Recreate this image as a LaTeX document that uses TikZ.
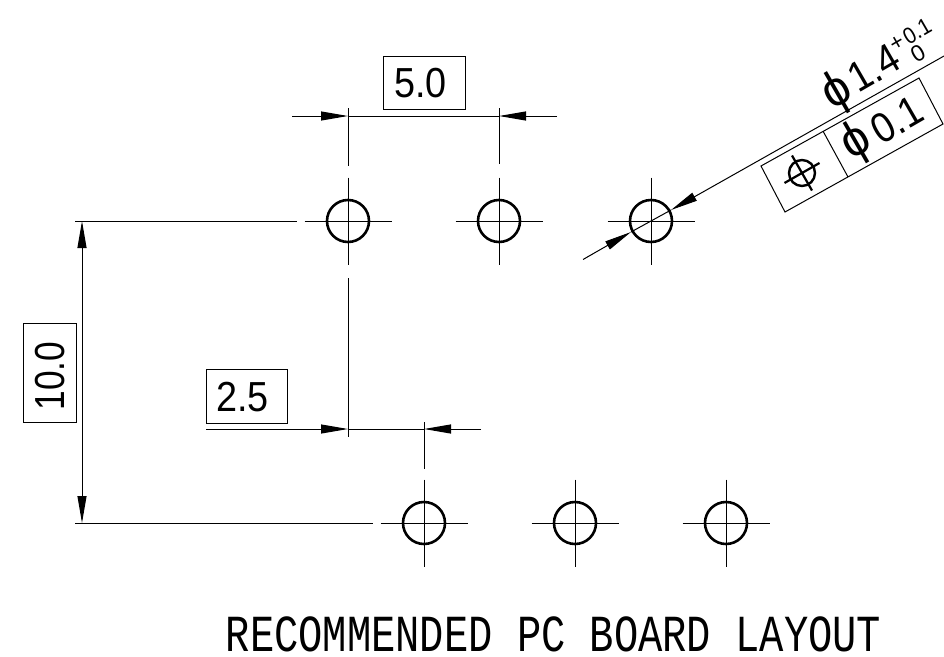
\documentclass[tikz,border=0pt]{standalone}
\usepackage{fontspec}
\setmainfont{Liberation Mono}
\newfontfamily\numf{Liberation Sans}
\usetikzlibrary{arrows.meta,calc}
\newcommand{\nar}[2][.9]{\scalebox{#1}[1]{#2}}
\tikzset{
  x=1pt,y=-1pt,
  thinline/.style={line width=1pt,black},
  hole/.style={circle,draw,line width=2.6pt,minimum size=42pt,inner sep=0pt},
  dimarrow/.style={-{Triangle[length=27pt,width=9pt]},thinline},
  frame/.style={draw,line width=1pt,inner sep=0pt,minimum height=53pt},
  bignum/.style={inner sep=0pt,font=\fontsize{42}{42}\selectfont\numf},
  tiltnum/.style={inner sep=0pt,rotate=30,transform shape,font=\fontsize{42}{42}\selectfont\numf},
  tinynum/.style={inner sep=0pt,rotate=30,transform shape,font=\fontsize{23}{23}\selectfont\numf},
}
\begin{document}
\begin{tikzpicture}
\useasboundingbox (0,0) rectangle (944,656);
% holes and centre lines
\foreach \n/\x/\y in {a/348/221,b/499/221,c/651/221,d/424/523,e/575/523,f/726/523}{
  \node[hole] (\n) at (\x,\y) {};
  \draw[thinline] (\x-43.5,\y) -- (\x+43.5,\y) (\x,\y-43.5) -- (\x,\y+43.5);
}
% extension lines
\coordinate (a1) at (348,108); \coordinate (a2) at (348,166);
\coordinate (b1) at (499,108); \coordinate (b2) at (499,164);
\coordinate (a3) at (348,278); \coordinate (a4) at (348,437);
\coordinate (d1) at (424,422); \coordinate (d2) at (424,469);
\coordinate (l1) at (75,221);  \coordinate (l2) at (297,221);
\coordinate (m1) at (75,523);  \coordinate (m2) at (373,523);
\draw[thinline] (a1) -- (a2) (b1) -- (b2) (a3) -- (a4) (d1) -- (d2) (l1) -- (l2) (m1) -- (m2);
% 5.0
\coordinate (p1) at (292,116); \coordinate (p2) at (348,116);
\coordinate (p3) at (499,116); \coordinate (p4) at (557,116);
\draw[thinline] (p2) -- (p3);
\draw[dimarrow] (p1) -- (p2);
\draw[dimarrow] (p4) -- (p3);
\node[frame,minimum width=82pt] (f50) at (424,82.5) {};
\node[bignum] (t50) at (420.5,83) {\nar{5.0}};
% 2.5
\coordinate (q1) at (206,429); \coordinate (q2) at (348,429);
\coordinate (q3) at (424,429); \coordinate (q4) at (481,429);
\draw[thinline] (q2) -- (q3);
\draw[dimarrow] (q1) -- (q2);
\draw[dimarrow] (q4) -- (q3);
\node[frame,minimum width=81pt,minimum height=54pt] (f25) at (246.5,396) {};
\node[bignum] (t25) at (242.5,397) {\nar{2.5}};
% 10.0
\coordinate (v1) at (82,221); \coordinate (v2) at (82,523);
\draw[thinline,{Triangle[length=27pt,width=9pt]}-{Triangle[length=27pt,width=9pt]}] (v1) -- (v2);
\node[frame,minimum width=53pt,minimum height=99pt] (f10) at (49.5,372.5) {};
\node[bignum,rotate=90,transform shape] (t10) at (50,376) {\nar[.84]{10.0}};
% leader through hole c
\coordinate (r1) at (583,259.5); \coordinate (r2) at (631,232);
\coordinate (r3) at (671,210);  \coordinate (r4) at (944,56);
\draw[thinline] (r2) -- (r3);
\draw[dimarrow] (r1) -- (r2);
\draw[dimarrow] (r4) -- (r3);
% feature control frame
\coordinate (k1) at (761,166); \coordinate (k2) at (919,78);
\coordinate (k3) at (943,124); \coordinate (k4) at (785,212);
\coordinate (k5) at (823.5,132); \coordinate (k6) at (848,177);
\draw[line width=1pt] (k1) -- (k2) -- (k3) -- (k4) -- cycle (k5) -- (k6);
\coordinate (s) at (802,173);
\node[circle,draw,line width=2.4pt,minimum size=26pt,inner sep=0pt] (sym) at (s) {};
\draw[line width=2.2pt] ($(s)+(-17.5,10)$) -- ($(s)+(17.5,-10)$) ($(s)+(-10,-17.5)$) -- ($(s)+(10,17.5)$);
% texts
\node[tiltnum,font=\fontsize{50}{50}\selectfont\numf] (phi1) at (838,93) {\nar[.95]{ϕ}};
\node[tiltnum] (t14) at (874,68) {\nar{1.4}};
\node[tinynum] (tp) at (897,43) {+};
\node[tinynum] (tu) at (917,31) {\nar{0.1}};
\node[tinynum] (tl) at (918,53) {0};
\node[tiltnum,font=\fontsize{50}{50}\selectfont\numf] (phi2) at (857,143) {\nar[.95]{ϕ}};
\node[tiltnum] (t01) at (897,120) {\nar{0.1}};
\node[inner sep=0pt,font=\fontsize{52}{52}\selectfont] (title) at (553.5,634) {\nar[.778]{RECOMMENDED PC BOARD LAYOUT}};
\end{tikzpicture}
\end{document}
